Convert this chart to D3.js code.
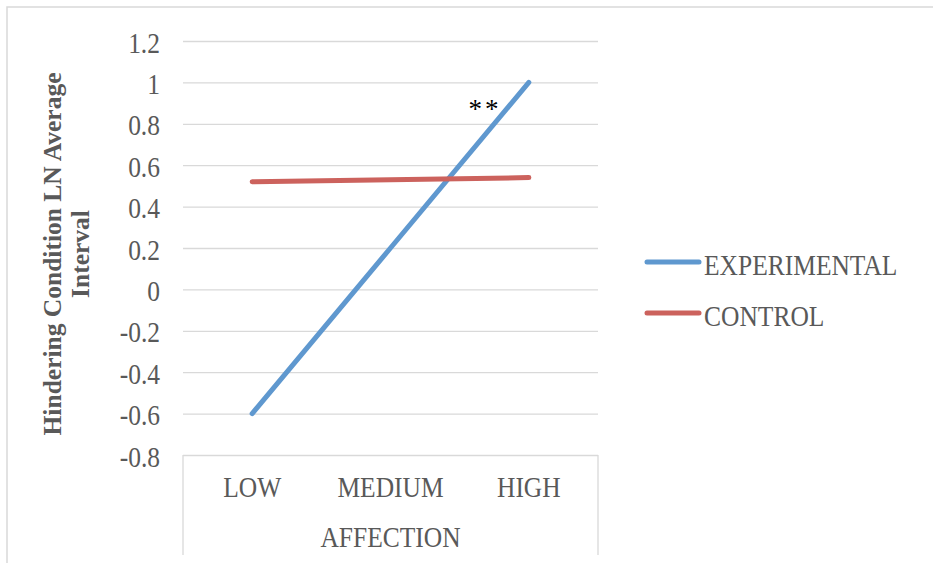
<!DOCTYPE html>
<html><head><meta charset="utf-8">
<script src="https://cdn.jsdelivr.net/npm/d3@7/dist/d3.min.js"></script>
<style>
html,body{margin:0;padding:0;background:#fff;}
svg{display:block;}
text{font-family:"Liberation Serif","Times New Roman",serif;fill:#595959;}
</style></head>
<body>
<svg id="c" width="933" height="563"></svg>
<script>
const categories = ["LOW", "MEDIUM", "HIGH"];
const experimental = [-0.6, 0.2, 1.0];
const control = [0.52, 0.53, 0.54];
const yTicks = [-0.8, -0.6, -0.4, -0.2, 0, 0.2, 0.4, 0.6, 0.8, 1, 1.2];
const seriesNames = ["EXPERIMENTAL", "CONTROL"];
const seriesColors = ["#5f98cf", "#cc625d"];
const xTitle = "AFFECTION";
const yTitleLines = ["Hindering Condition LN Average", "Interval"];
const annotation = "**";

const svg = d3.select("#c");
const L = 183, R = 598, T = 41, B = 455;
const FS = 25.5, SY = 1.15;

// outer border
svg.append("rect").attr("x", 7).attr("y", 7).attr("width", 1000).attr("height", 1000)
  .attr("fill", "none").attr("stroke", "#d9d9d9").attr("stroke-width", 1.5);

const x = d3.scalePoint().domain(categories).range([L, R]).padding(0.5);
const y = d3.scaleLinear().domain([-0.8, 1.2]).range([B, T]);

// gridlines
const grid = svg.append("g").attr("transform", `translate(${L},0)`)
  .call(d3.axisLeft(y).tickValues(yTicks).tickSize(-(R - L)).tickFormat(""));
grid.select(".domain").remove();
grid.selectAll("line").attr("stroke", "#d9d9d9").attr("stroke-width", 1.3);

function stretchedText(g, tx, ty, str, anchor, opts = {}) {
  const t = g.append("g").attr("transform", `translate(${tx},${ty}) scale(1,${SY})`)
    .append("text").attr("text-anchor", anchor).attr("font-size", opts.fs || FS).text(str);
  if (opts.fill) t.style("fill", opts.fill);
  if (opts.weight) t.attr("font-weight", opts.weight);
  return t;
}
// tick labels
const yl = svg.append("g");
yTicks.forEach(v => stretchedText(yl, 160, y(v) + 11.5, d3.format("")(v).replace("−", "-"), "end"));

// category box
svg.append("path").attr("d", `M${L},${B}V555M${R},${B}V555`)
  .attr("stroke", "#d9d9d9").attr("stroke-width", 1.3).attr("fill", "none");

// category labels
const xl = svg.append("g");
categories.forEach(c => stretchedText(xl, x(c), 497, c, "middle"));
stretchedText(xl, (L + R) / 2, 547, xTitle, "middle");

// y title
const yt = svg.append("text").attr("transform", "translate(0,254) rotate(-90)")
  .attr("text-anchor", "middle").attr("font-weight", "bold").attr("font-size", FS);
yTitleLines.forEach((s, i) => yt.append("tspan").attr("x", 0).attr("y", 61 + i * 28).text(s));

// lines
const line = d3.line().x((d, i) => x(categories[i])).y(d => y(d));
[experimental, control].forEach((s, i) => {
  svg.append("path").datum(s).attr("d", line).attr("fill", "none")
    .attr("stroke", seriesColors[i]).attr("stroke-width", 5).attr("stroke-linecap", "round");
});

// annotation
svg.append("text").attr("x", 485).attr("y", 118).attr("text-anchor", "middle")
  .attr("font-family", "Liberation Sans, Arial, sans-serif").attr("font-size", 27)
  .attr("letter-spacing", 3).style("fill", "#000").text(annotation);

// legend
const lg = svg.append("g");
seriesNames.forEach((n, i) => {
  const ly = 262 + i * 51;
  lg.append("line").attr("x1", 647).attr("x2", 699).attr("y1", ly).attr("y2", ly)
    .attr("stroke", seriesColors[i]).attr("stroke-width", 5).attr("stroke-linecap", "round");
  stretchedText(lg, 704, ly + 13, n, "start");
});
</script>
</body></html>
